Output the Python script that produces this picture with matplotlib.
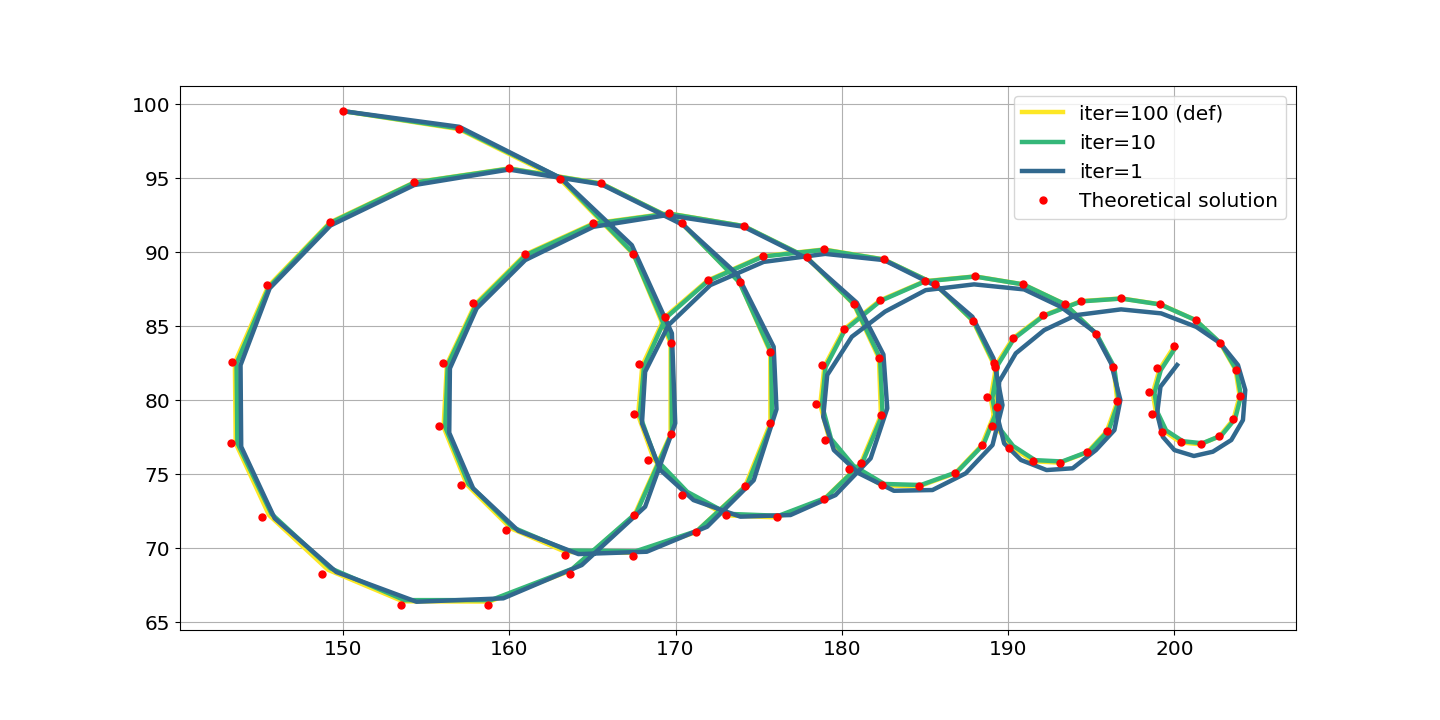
import matplotlib
matplotlib.use('Agg')
import matplotlib.pyplot as plt

# theoretical solution (red dots)
theo_x = [150.00, 156.99, 163.05, 167.47, 169.70, 169.70, 167.53, 163.66, 158.73, 153.49,
          148.73, 145.14, 143.25, 143.31, 145.42, 149.22, 154.28, 160.00, 165.54, 170.38,
          173.86, 175.70, 175.70, 174.18, 171.20, 167.43, 163.37, 159.82, 157.11, 155.78,
          156.02, 157.83, 160.96, 165.06, 169.58, 174.10, 177.89, 180.72, 182.23, 182.35,
          181.14, 178.92, 176.08, 173.04, 170.36, 168.37, 167.49, 167.83, 169.34, 171.93,
          175.24, 178.92, 182.51, 185.60, 187.89, 189.20, 189.34, 188.41, 186.81, 184.64,
          182.41, 180.42, 178.98, 178.43, 178.80, 180.12, 182.29, 185.00, 188.01, 190.90,
          193.43, 195.30, 196.33, 196.57, 195.94, 194.76, 193.13, 191.51, 190.06, 189.02,
          188.72, 189.16, 190.30, 192.11, 194.40, 196.81, 199.16, 201.27, 202.77, 203.68,
          203.92, 203.55, 202.71, 201.57, 200.38, 199.28, 198.67, 198.48, 198.96, 200.00]
theo_y = [99.55, 98.33, 94.95, 89.88, 83.85, 77.70, 72.25, 68.24, 66.15, 66.15,
          68.24, 72.09, 77.09, 82.57, 87.77, 92.03, 94.73, 95.68, 94.66, 91.96,
          87.97, 83.24, 78.45, 74.19, 71.08, 69.46, 69.53, 71.22, 74.26, 78.24,
          82.50, 86.55, 89.86, 91.96, 92.64, 91.78, 89.66, 86.49, 82.84, 78.99,
          75.74, 73.31, 72.09, 72.23, 73.58, 75.95, 79.05, 82.43, 85.61, 88.11,
          89.75, 90.20, 89.53, 87.86, 85.36, 82.27, 79.53, 76.96, 75.07, 74.19,
          74.26, 75.36, 77.32, 79.73, 82.36, 84.80, 86.76, 88.06, 88.38, 87.84,
          86.49, 84.48, 82.25, 79.93, 77.93, 76.49, 75.79, 75.88, 76.76, 78.24,
          80.20, 82.50, 84.21, 85.74, 86.71, 86.89, 86.49, 85.43, 83.85, 82.05,
          80.29, 78.72, 77.57, 77.03, 77.16, 77.84, 79.07, 80.54, 82.16, 83.67]

# iter=100 (default)
it100_x = [150.00, 156.99, 163.05, 167.47, 169.70, 169.70, 167.53, 163.70, 158.80, 153.60,
           149.10, 145.55, 143.55, 143.50, 145.50, 149.22, 154.28, 160.00, 165.54, 170.38,
           173.86, 175.70, 175.70, 174.18, 171.20, 167.50, 163.40, 160.10, 157.45, 156.05,
           156.25, 157.95, 160.96, 165.06, 169.58, 174.10, 177.89, 180.72, 182.23, 182.35,
           181.14, 178.92, 176.08, 173.04, 170.60, 168.70, 167.75, 168.00, 169.34, 171.93,
           175.24, 178.92, 182.51, 185.60, 187.89, 189.20, 189.34, 188.41, 186.81, 184.64,
           182.41, 180.60, 179.25, 178.70, 178.95, 180.12, 182.29, 185.00, 188.01, 190.90,
           193.43, 195.30, 196.33, 196.57, 195.94, 194.76, 193.13, 191.51, 190.20, 189.25,
           188.95, 189.30, 190.30, 192.11, 194.40, 196.81, 199.16, 201.27, 202.77, 203.68,
           203.92, 203.55, 202.71, 201.57, 200.38, 199.40, 198.90, 198.70, 199.10, 200.00]
it100_y = [99.55, 98.33, 94.95, 89.88, 83.85, 77.70, 72.25, 68.50, 66.40, 66.42,
           68.55, 72.25, 77.10, 82.55, 87.70, 92.03, 94.73, 95.68, 94.66, 91.96,
           87.97, 83.24, 78.45, 74.19, 71.08, 69.70, 69.75, 71.35, 74.30, 78.20,
           82.45, 86.50, 89.86, 91.96, 92.64, 91.78, 89.66, 86.49, 82.84, 78.99,
           75.74, 73.31, 72.09, 72.23, 73.75, 76.00, 79.00, 82.35, 85.61, 88.11,
           89.75, 90.20, 89.53, 87.86, 85.36, 82.27, 79.53, 76.96, 75.07, 74.19,
           74.26, 75.50, 77.35, 79.70, 82.30, 84.80, 86.76, 88.06, 88.38, 87.84,
           86.49, 84.48, 82.25, 79.93, 77.93, 76.49, 75.79, 75.88, 76.85, 78.25,
           80.15, 82.45, 84.21, 85.74, 86.71, 86.89, 86.49, 85.43, 83.85, 82.05,
           80.29, 78.72, 77.57, 77.03, 77.16, 77.90, 79.10, 80.50, 82.10, 83.67]

# iter=10
it10_x = [150.00, 157.00, 163.10, 167.45, 169.75, 169.78, 167.65, 163.80, 158.90, 153.70,
          149.25, 145.70, 143.65, 143.60, 145.55, 149.25, 154.30, 160.00, 165.55, 170.40,
          173.85, 175.75, 175.80, 174.30, 171.30, 167.60, 163.50, 160.20, 157.55, 156.15,
          156.30, 158.00, 161.00, 165.10, 169.60, 174.10, 177.90, 180.75, 182.30, 182.45,
          181.25, 179.05, 176.20, 173.15, 170.70, 168.80, 167.85, 168.10, 169.40, 171.95,
          175.25, 178.92, 182.52, 185.62, 187.92, 189.25, 189.42, 188.52, 186.92, 184.75,
          182.55, 180.70, 179.35, 178.80, 179.02, 180.18, 182.32, 185.00, 188.01, 190.90,
          193.43, 195.32, 196.38, 196.65, 196.05, 194.88, 193.25, 191.62, 190.30, 189.35,
          189.05, 189.38, 190.35, 192.13, 194.40, 196.81, 199.16, 201.28, 202.80, 203.73,
          204.00, 203.65, 202.82, 201.68, 200.50, 199.50, 199.00, 198.80, 199.18, 200.08]
it10_y = [99.55, 98.38, 95.02, 89.95, 83.95, 77.80, 72.40, 68.62, 66.50, 66.50,
          68.65, 72.33, 77.12, 82.50, 87.65, 92.00, 94.72, 95.66, 94.64, 91.95,
          87.97, 83.25, 78.50, 74.28, 71.18, 69.80, 69.85, 71.42, 74.35, 78.20,
          82.40, 86.45, 89.82, 91.93, 92.62, 91.78, 89.66, 86.49, 82.85, 79.05,
          75.83, 73.42, 72.20, 72.33, 73.82, 76.05, 79.00, 82.30, 85.56, 88.07,
          89.72, 90.18, 89.52, 87.85, 85.36, 82.30, 79.56, 77.02, 75.15, 74.28,
          74.35, 75.58, 77.40, 79.70, 82.25, 84.75, 86.72, 88.04, 88.37, 87.84,
          86.49, 84.48, 82.25, 79.95, 77.98, 76.56, 75.87, 75.96, 76.92, 78.30,
          80.15, 82.40, 84.17, 85.71, 86.69, 86.88, 86.48, 85.42, 83.84, 82.05,
          80.29, 78.75, 77.62, 77.10, 77.24, 77.97, 79.15, 80.50, 82.05, 83.60]

# iter=1
it1_x = [150.00, 156.99, 163.12, 167.37, 169.78, 169.98, 168.17, 164.36, 159.64, 154.42,
         149.60, 145.89, 143.88, 143.84, 145.59, 149.25, 154.28, 159.98, 165.54, 170.48,
         173.70, 175.90, 176.07, 174.70, 171.90, 168.27, 164.16, 160.54, 157.83, 156.39,
         156.43, 158.04, 160.96, 165.06, 169.48, 174.10, 177.90, 180.90, 182.50, 182.73,
         181.73, 179.62, 176.91, 173.90, 171.08, 169.08, 167.98, 168.17, 169.58, 172.09,
         175.30, 179.00, 182.53, 185.75, 187.85, 189.12, 189.66, 189.06, 187.45, 185.45,
         183.13, 181.02, 179.52, 178.88, 179.12, 180.60, 182.60, 185.04, 187.95, 190.96,
         193.17, 195.18, 196.19, 196.75, 196.39, 195.28, 193.88, 192.31, 190.77, 189.76,
         189.36, 189.46, 190.46, 192.17, 194.08, 196.79, 199.20, 201.31, 202.77, 203.82,
         204.26, 204.12, 203.42, 202.31, 201.17, 200.00, 199.30, 198.96, 199.16, 200.16]
it1_y = [99.55, 98.49, 95.01, 90.49, 84.53, 78.45, 72.81, 68.87, 66.62, 66.39,
         68.40, 72.03, 76.87, 82.38, 87.57, 91.82, 94.55, 95.60, 94.60, 91.84,
         88.53, 83.62, 79.40, 74.60, 71.46, 69.77, 69.61, 71.19, 74.05, 77.81,
         82.16, 86.22, 89.48, 91.73, 92.52, 91.73, 89.60, 86.60, 83.10, 79.46,
         76.08, 73.60, 72.25, 72.14, 73.26, 75.30, 78.45, 81.93, 85.09, 87.79,
         89.36, 89.90, 89.48, 87.68, 85.65, 82.84, 79.68, 76.98, 75.07, 73.94,
         73.89, 75.07, 76.64, 78.89, 81.71, 84.30, 86.00, 87.45, 87.84, 87.50,
         86.32, 84.64, 82.50, 80.02, 77.99, 76.64, 75.41, 75.29, 75.97, 77.09,
         78.89, 81.26, 83.18, 84.75, 85.76, 86.15, 85.88, 84.97, 83.85, 82.39,
         80.70, 78.67, 77.32, 76.53, 76.24, 76.64, 77.54, 79.12, 80.92, 82.39]

fig = plt.figure(figsize=(14.4, 7.2), dpi=100)
ax = fig.add_subplot(111)
fig.subplots_adjust(left=0.125, right=0.9, top=0.88, bottom=0.125)

ax.plot(it100_x, it100_y, color='#fde725', lw=3.2, solid_joinstyle='round', label='iter=100 (def)')
ax.plot(it10_x, it10_y, color='#35b779', lw=3.2, solid_joinstyle='round', label='iter=10')
ax.plot(it1_x, it1_y, color='#31688e', lw=3.2, label='iter=1')
ax.plot(theo_x, theo_y, 'ro', ms=5, label='Theoretical solution')

ax.grid(True)
ax.tick_params(labelsize=14.5)
ax.legend(loc='upper right', fontsize=14.5)

fig.savefig('out.png')
